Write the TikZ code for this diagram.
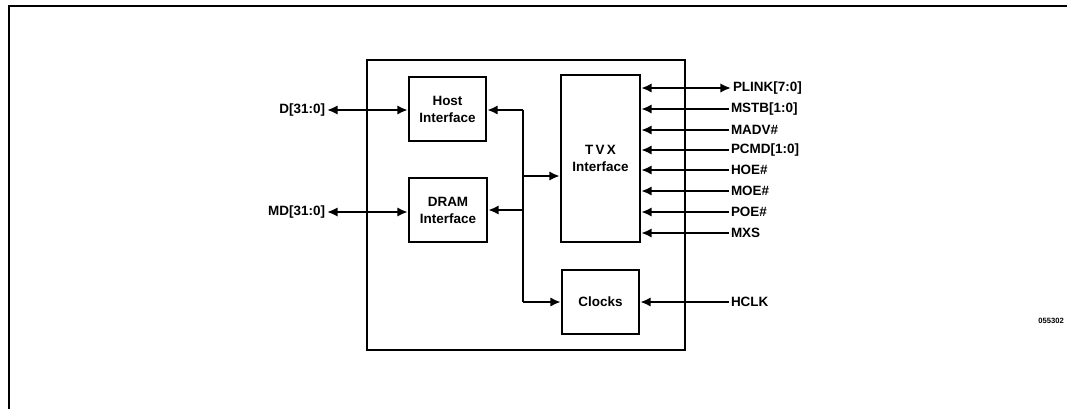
\documentclass[tikz,border=0pt]{standalone}
\usepackage{fontspec}
\setmainfont{Liberation Sans}
\usetikzlibrary{arrows.meta,calc}

\tikzset{
  blk/.style={draw, line width=2pt, align=center, inner sep=0pt,
    font=\fontsize{11.5}{14.5}\selectfont\bfseries},
  lbl/.style={inner sep=1.5pt, font=\fontsize{11.5}{13}\selectfont\bfseries},
  wire/.style={line width=2pt},
  arr/.style={wire, -{Latex[length=9pt,width=8pt]}},
  darr/.style={wire, {Latex[length=9pt,width=8pt]}-{Latex[length=9pt,width=8pt]}}
}

\begin{document}
\begin{tikzpicture}[x=0.03cm,y=-0.03cm]
\useasboundingbox (0,0) rectangle (1067,409);
% page frame and chip outline
\draw[line width=2.2pt] (1067,6) -- (9,6) -- (9,409);
\draw[line width=1.6pt] (367,60) rectangle (685,350);

% blocks
\node[blk, minimum width=2.31cm, minimum height=1.92cm] (host) at (447.5,109) {Host\\Interface};
\node[blk, minimum width=2.34cm, minimum height=1.92cm] (dram) at (448,210) {DRAM\\Interface};
\node[blk, minimum width=2.37cm, minimum height=5.01cm] (tvx) at (600.5,158.5) {T\,V\,X\\Interface};
\node[blk, minimum width=2.31cm, minimum height=1.92cm] (clk) at (600.5,302) {Clocks};

% left side signals
\node[lbl, anchor=east] (d) at (327,110) {D[31:0]};
\node[lbl, anchor=east] (md) at (327,212) {MD[31:0]};
\draw[darr] (d.east) -- (d.east -| host.west);
\draw[darr] (md.east) -- (md.east -| dram.west);

% internal bus
\coordinate (bt) at (523,110);
\coordinate (tj) at (523,176);
\coordinate (bb) at (523,302);
\draw[wire] (bt) -- (bb);
\draw[arr] (bt) -- (bt -| host.east);
\draw[arr] (bt |- dram.east) -- (dram.east);
\draw[arr] (tj) -- (tj -| tvx.west);
\draw[arr] (bb) -- (bb -| clk.west);

% right side signals
\node[lbl, anchor=west] (plink) at (731,88) {PLINK[7:0]};
\draw[darr] (plink.west) -- (plink.west -| tvx.east);
\foreach \nm/\y/\txt in {mstb/109/MSTB[1:0], madv/130/MADV\#, pcmd/150/PCMD[1:0],
    hoe/170/HOE\#, moe/191/MOE\#, poe/212/POE\#, mxs/233/MXS} {
  \node[lbl, anchor=west] (\nm) at (729,\y) {\txt};
  \draw[arr] (\nm.west) -- (\nm.west -| tvx.east);
}
\node[lbl, anchor=west] (hclk) at (729,302) {HCLK};
\draw[arr] (hclk.west) -- (hclk.west -| clk.east);

\node[inner sep=0pt, anchor=east, font=\fontsize{6.5}{8}\selectfont\bfseries] (fig) at (1064,321) {055302};
\end{tikzpicture}
\end{document}
